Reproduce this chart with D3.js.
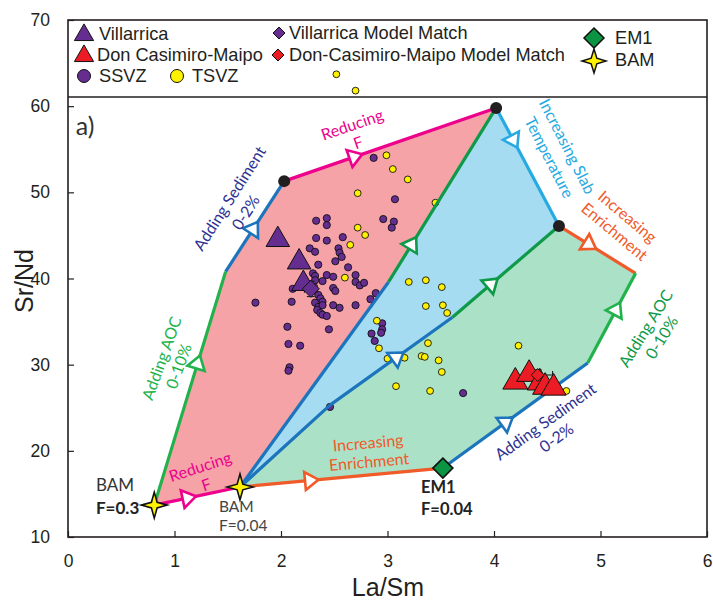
<!DOCTYPE html>
<html><head><meta charset="utf-8">
<script src="https://cdn.jsdelivr.net/npm/d3@7"></script>
<style>body{margin:0;background:#fff;} svg{display:block;}</style>
</head><body>
<svg id="c" width="713" height="602"></svg>
<script>
// ---------------- DATA ----------------
const xTicks = [0, 1, 2, 3, 4, 5, 6];
const yTicks = [10, 20, 30, 40, 50, 60, 70];

const ssvz = [
 [2.87,54.0],[2.96,46.9],[3.07,49.2],[3.06,46.6],[3.04,45.9],
 [2.33,46.7],[2.43,47.0],[2.43,46.2],[2.33,44.7],[2.43,44.4],[2.58,44.8],
 [2.27,43.5],[2.32,43.1],[2.54,43.5],[2.55,43.0],[2.57,42.5],[2.51,42.0],
 [2.35,41.6],[2.63,41.3],[2.30,40.6],[2.32,40.3],[2.43,40.4],[2.49,40.2],
 [2.70,40.4],[2.70,39.6],[2.74,39.2],[2.78,39.5],[2.39,39.7],[2.30,39.4],[2.32,39.8],
 [2.49,38.9],[2.51,38.55],[2.89,38.3],[2.11,38.8],[1.76,37.2],[2.10,37.3],
 [2.35,38.1],[2.37,37.7],[2.39,37.3],[2.32,37.2],[2.35,36.7],[2.39,36.9],
 [2.34,36.35],[2.37,36.0],[2.39,35.8],[2.43,35.65],[2.49,36.9],[2.55,36.6],
 [2.70,36.9],[2.84,37.6],[2.06,34.4],[2.45,34.1],[2.07,32.4],[2.18,32.2],
 [2.08,29.7],[2.07,29.3],[2.95,34.8],[2.95,34.1],[2.94,33.7],[2.85,33.6],
 [2.88,32.75],[2.46,25.1],[3.71,26.7]
];
const tsvz = [
 [2.52,63.7],[2.70,61.8],[2.99,54.3],[3.05,52.7],[3.19,51.5],[2.72,49.9],[3.45,48.8],
 [2.72,45.9],[2.79,45.05],[2.65,43.9],[2.60,40.1],[3.20,39.6],[3.36,39.8],[3.51,39.0],
 [3.36,36.8],[3.52,36.9],[3.56,36.0],[2.90,35.1],[2.92,31.9],[3.00,30.7],[3.16,30.8],
 [3.38,32.5],[3.32,31.0],[3.35,30.9],[3.48,30.5],[3.51,29.15],[3.08,27.5],[3.40,26.95],
 [4.23,32.2],[4.68,26.95]
];
const villarrica = [[1.97,44.5],[2.17,41.9],[2.21,39.4]];
const villarricaModel = [[2.28,38.8]];
const villarricaModelErr = [[0.06,0.9]];
const donCasimiro = [[4.20,28.0],[4.33,28.9],[4.43,27.9],[4.48,27.4],[4.56,27.3]];
const donCasimiroModel = [[4.41,28.8]];
const donCasimiroModelErr = [[0.14,0.6]];

// model end-members and mixing curve vertices (La/Sm, Sr/Nd)
const bam03 = [0.81,13.7];
const bam004 = [1.615,15.8];
const em1 = [3.52,18.0];
const endSedLeft = [2.03,51.3];
const endTop = [4.02,59.8];
const endRight = [4.61,46.1];
const aocRightEnd = [5.33,40.6];
const sedRightEnd = [4.88,30.2];
const aocLeftEnd = [1.48,40.8];
const junctionUpper = [3.01,39.6];
const junctionLower = [3.61,35.5];
const lowerBend = [2.46,25.3];

const regionPink = [bam03, aocLeftEnd, endSedLeft, endTop, junctionUpper, bam004];
const regionBlue = [bam004, junctionUpper, endTop, endRight, junctionLower, lowerBend];
const regionGreen = [bam004, lowerBend, junctionLower, endRight, aocRightEnd, sedRightEnd, em1];

const curveReducingTop = [endSedLeft, endTop];
const curveReducingBottom = [bam03, bam004];
const curveSedLeft = [aocLeftEnd, endSedLeft];
const curveAocLeft = [bam03, aocLeftEnd];
const curveSlab = [endTop, endRight];
const curveEnrichRight = [endRight, aocRightEnd];
const curveAocRight = [sedRightEnd, aocRightEnd];
const curveSedRight = [em1, sedRightEnd];
const curveEnrichBottom = [bam004, em1];
const curveUpperBlue = [bam004, junctionUpper];
const curveUpperGreen = [junctionUpper, endTop];
const curveLowerBlue = [bam004, lowerBend, junctionLower];
const curveLowerGreen = [junctionLower, endRight];
const blackDots = [endSedLeft, endTop, endRight];

// ---------------- DRAW ----------------
const svg = d3.select('#c');
const x = d3.scaleLinear().domain([0,6]).range([68,707]);
const y = d3.scaleLinear().domain([10,70]).range([537,20]);
const line = d3.line().x(d=>x(d[0])).y(d=>y(d[1]));

const C = {pink:'#f5a3a7', lblue:'#a6dcf2', lgreen:'#abe1c6', blue:'#1c75bc', green:'#22b24c',
  dgreen:'#0e9a48', magenta:'#ec008c', cyan:'#27aae1', orange:'#f15a29', navy:'#2e3192',
  purple:'#652d90', red:'#ec1c24', yellow:'#fff200', em:'#0b9444'};

[[regionPink,C.pink],[regionBlue,C.lblue],[regionGreen,C.lgreen]].forEach(([p,c])=>
  svg.append('path').attr('d', line(p)+'Z').attr('fill', c));

// small circles (below lines)
const gPts = svg.append('g');
gPts.selectAll('.s').data(ssvz).join('circle').attr('cx',d=>x(d[0])).attr('cy',d=>y(d[1]))
  .attr('r',3.6).attr('fill',C.purple).attr('stroke','#111').attr('stroke-width',0.9);
gPts.selectAll('.t').data(tsvz).join('circle').attr('cx',d=>x(d[0])).attr('cy',d=>y(d[1]))
  .attr('r',3.4).attr('fill',C.yellow).attr('stroke','#111').attr('stroke-width',0.9);

const curves = [
 [curveReducingTop,C.magenta],[curveReducingBottom,C.magenta],[curveSedLeft,C.blue],
 [curveAocLeft,C.green],[curveSlab,C.cyan],[curveEnrichRight,C.orange],[curveAocRight,C.green],
 [curveSedRight,C.blue],[curveEnrichBottom,C.orange],[curveUpperBlue,C.blue],
 [curveUpperGreen,C.dgreen],[curveLowerBlue,C.blue],[curveLowerGreen,C.dgreen]
];
curves.forEach(([p,c])=>svg.append('path').attr('d',line(p)).attr('fill','none')
  .attr('stroke',c).attr('stroke-width',3.2).attr('stroke-linejoin','round'));

// open arrow heads along curves: [curve, segment, fraction, colour]
const arrows = [
 [curveSedLeft,0,0.48,C.blue],[curveReducingTop,0,0.335,C.magenta],[curveSlab,0,0.28,C.cyan],
 [curveUpperGreen,0,0.22,C.dgreen],[curveAocLeft,0,0.61,C.green],[curveLowerGreen,0,0.37,C.dgreen],
 [curveEnrichRight,0,0.4,C.orange],[curveAocRight,0,0.6,C.green],[curveSedRight,0,0.44,C.blue],
 [curveLowerBlue,1,0.55,C.blue],[curveReducingBottom,0,0.4,C.magenta],[curveEnrichBottom,0,0.35,C.orange]
];
arrows.forEach(([cv,i,t,c])=>{
  const a=[x(cv[i][0]),y(cv[i][1])], b=[x(cv[i+1][0]),y(cv[i+1][1])];
  const cx=a[0]+t*(b[0]-a[0]), cy=a[1]+t*(b[1]-a[1]);
  const ang=Math.atan2(b[1]-a[1],b[0]-a[0])*180/Math.PI;
  svg.append('path').attr('d','M7.5,0L-6,-9L-6,9Z')
    .attr('transform',`translate(${cx},${cy}) rotate(${ang})`)
    .attr('fill','#fff').attr('stroke',c).attr('stroke-width',2.6).attr('stroke-linejoin','miter');
});

// black end-member dots
svg.selectAll('.bd').data(blackDots).join('circle').attr('cx',d=>x(d[0])).attr('cy',d=>y(d[1]))
  .attr('r',6).attr('fill','#231f20');

// error bars
function errBars(pts, errs, col){
  pts.forEach((d,i)=>{
    const e=errs[i], g=svg.append('g').attr('stroke',col).attr('stroke-width',1.1);
    g.append('line').attr('x1',x(d[0]-e[0])).attr('x2',x(d[0]+e[0])).attr('y1',y(d[1])).attr('y2',y(d[1]));
    g.append('line').attr('x1',x(d[0])).attr('x2',x(d[0])).attr('y1',y(d[1]-e[1])).attr('y2',y(d[1]+e[1]));
    [[d[0]-e[0],d[1],0],[d[0]+e[0],d[1],0],[d[0],d[1]-e[1],1],[d[0],d[1]+e[1],1]].forEach(q=>{
      if(q[2]===0) g.append('line').attr('x1',x(q[0])).attr('x2',x(q[0])).attr('y1',y(q[1])-4).attr('y2',y(q[1])+4);
      else g.append('line').attr('x1',x(q[0])-4).attr('x2',x(q[0])+4).attr('y1',y(q[1])).attr('y2',y(q[1]));
    });
  });
}
errBars(villarricaModel, villarricaModelErr, '#222');
errBars(donCasimiroModel, donCasimiroModelErr, '#222');

const tri = s=>d3.symbol().type(d3.symbolTriangle).size(s)();
const dia = (s)=>`M0,${-s}L${s},0L0,${s}L${-s},0Z`;
function star(R,r){let p='';for(let k=0;k<8;k++){const a=-Math.PI/2+k*Math.PI/4;const rr=k%2?r:R;p+=(k?'L':'M')+(rr*Math.cos(a)).toFixed(2)+','+(rr*Math.sin(a)).toFixed(2);}return p+'Z';}

svg.selectAll('.vt').data(villarrica).join('path').attr('d',tri(240))
  .attr('transform',d=>`translate(${x(d[0])},${y(d[1])})`).attr('fill',C.purple).attr('stroke','#111').attr('stroke-width',1);
svg.selectAll('.vm').data(villarricaModel).join('path').attr('d',dia(8.5))
  .attr('transform',d=>`translate(${x(d[0])},${y(d[1])})`).attr('fill',C.purple).attr('stroke','#111').attr('stroke-width',1);
svg.selectAll('.dt').data(donCasimiro).join('path').attr('d',tri(270))
  .attr('transform',d=>`translate(${x(d[0])},${y(d[1])})`).attr('fill',C.red).attr('stroke','#111').attr('stroke-width',1);
svg.selectAll('.dm').data(donCasimiroModel).join('path').attr('d',dia(6.5))
  .attr('transform',d=>`translate(${x(d[0])},${y(d[1])})`).attr('fill',C.red).attr('stroke','#111').attr('stroke-width',1);

svg.selectAll('.em').data([em1]).join('path').attr('d',dia(10))
  .attr('transform',d=>`translate(${x(d[0])},${y(d[1])})`).attr('fill',C.em).attr('stroke','#111').attr('stroke-width',1.6);
svg.selectAll('.st').data([bam03,bam004]).join('path').attr('d',star(13,4))
  .attr('transform',d=>`translate(${x(d[0])},${y(d[1])})`).attr('fill',C.yellow).attr('stroke','#111').attr('stroke-width',1.6);

// ---------------- TEXT ----------------
const AF = "Lato, 'Open Sans', sans-serif";
const FS = 16;
function rt(t, cx, cy, ang, col, size, wt, anchor){
  svg.append('text').attr('transform',`translate(${cx},${cy}) rotate(${ang})`)
    .attr('text-anchor',anchor||'middle').attr('dominant-baseline','central')
    .attr('font-family',AF).attr('font-size',size).attr('font-weight',wt||400)
    .attr('fill',col).text(t);
}
rt('a)',85,125,0,'#333',25);
rt('Reducing',352,124,-19,C.magenta,FS);
rt('F',358,142,-19,C.magenta,FS);
rt('Adding Sediment',229,198,-57.5,C.navy,FS);
rt('0-2%',245,212,-57.5,C.navy,FS);
rt('Increasing Slab',568,146,63,C.cyan,FS);
rt('Temperature',550,157,63,C.cyan,FS);
rt('Increasing',628,216,40,C.orange,FS);
rt('Enrichment',615,231,40,C.orange,FS);
rt('Adding AOC',645,328,-58,C.dgreen,FS);
rt('0-10%',661,337,-58,C.dgreen,FS);
rt('Adding AOC',161,358,-70,C.green,FS);
rt('0-10%',178,366,-70,C.green,FS);
rt('Reducing',200,466,-18,C.magenta,FS);
rt('F',206,484,-18,C.magenta,FS);
rt('Increasing',368,442,-5,C.orange,FS);
rt('Enrichment',369,461,-5,C.orange,FS);
rt('Adding Sediment',545,421,-35.5,C.navy,FS);
rt('0-2%',556,437,-35.5,C.navy,FS);
rt('BAM',96,484,0,'#333',17,400,'start');
rt('F=0.3',96,507,0,'#222',17,700,'start');
rt('BAM',219,506,0,'#444',15.5,400,'start');
rt('F=0.04',219,525,0,'#444',15.5,400,'start');
rt('EM1',421,487,0,'#222',16.5,700,'start');
rt('F=0.04',421,509,0,'#222',16.5,700,'start');

// ---------------- FRAME & AXES ----------------
svg.append('rect').attr('x',x(0)).attr('y',y(70)).attr('width',x(6)-x(0)).attr('height',y(10)-y(70))
  .attr('fill','none').attr('stroke','#231f20').attr('stroke-width',1.6);
svg.append('line').attr('x1',x(0)).attr('x2',x(6)).attr('y1',97).attr('y2',97)
  .attr('stroke','#231f20').attr('stroke-width',1.6);

const TF = "'Liberation Sans', Arial, sans-serif";
const ax = svg.append('g').attr('transform',`translate(0,${y(10)})`)
  .call(d3.axisBottom(x).tickValues(xTicks).tickSize(-6).tickPadding(18).tickFormat(d3.format('d')));
const ay = svg.append('g').attr('transform',`translate(${x(0)},0)`)
  .call(d3.axisLeft(y).tickValues(yTicks).tickSize(-6).tickPadding(18).tickFormat(d3.format('d')));
[ax,ay].forEach(g=>{g.select('.domain').remove();
  g.selectAll('line').attr('stroke','#231f20').attr('stroke-width',1.2);
  g.selectAll('text').attr('font-family',TF).attr('font-size',17.5).attr('fill','#231f20');});

svg.append('text').attr('x',388).attr('y',596).attr('text-anchor','middle').attr('font-family',TF)
  .attr('font-size',25).attr('fill','#231f20').text('La/Sm');
svg.append('text').attr('transform','translate(33,281) rotate(-90)').attr('text-anchor','middle')
  .attr('font-family',TF).attr('font-size',25).attr('fill','#231f20').text('Sr/Nd');

// ---------------- LEGEND ----------------
const LF = 18.2;
function lt(t,xx,yy){svg.append('text').attr('x',xx).attr('y',yy).attr('dominant-baseline','central')
  .attr('font-family',TF).attr('font-size',LF).attr('fill','#231f20').text(t);}
svg.append('path').attr('d',tri(160)).attr('transform','translate(84,35)').attr('fill',C.purple).attr('stroke','#111');
lt('Villarrica',99,34);
svg.append('path').attr('d',tri(160)).attr('transform','translate(84,56)').attr('fill',C.red).attr('stroke','#111');
lt('Don Casimiro-Maipo',97,55);
svg.append('circle').attr('cx',84).attr('cy',76).attr('r',6.5).attr('fill',C.purple).attr('stroke','#111');
lt('SSVZ',99,76);
svg.append('circle').attr('cx',177).attr('cy',76).attr('r',6.5).attr('fill',C.yellow).attr('stroke','#111');
lt('TSVZ',192,76);
svg.append('path').attr('d',dia(6)).attr('transform','translate(279,33)').attr('fill',C.purple).attr('stroke','#111');
lt('Villarrica Model Match',289,33);
svg.append('path').attr('d',dia(6)).attr('transform','translate(278,55)').attr('fill',C.red).attr('stroke','#111');
lt('Don-Casimiro-Maipo Model Match',289,55);
svg.append('path').attr('d',dia(10)).attr('transform','translate(594,38)').attr('fill',C.em).attr('stroke','#111').attr('stroke-width',1.5);
lt('EM1',615,38);
svg.append('path').attr('d',star(12,4)).attr('transform','translate(594,61)').attr('fill',C.yellow).attr('stroke','#111').attr('stroke-width',1.5);
lt('BAM',615,60);
</script>
</body></html>
